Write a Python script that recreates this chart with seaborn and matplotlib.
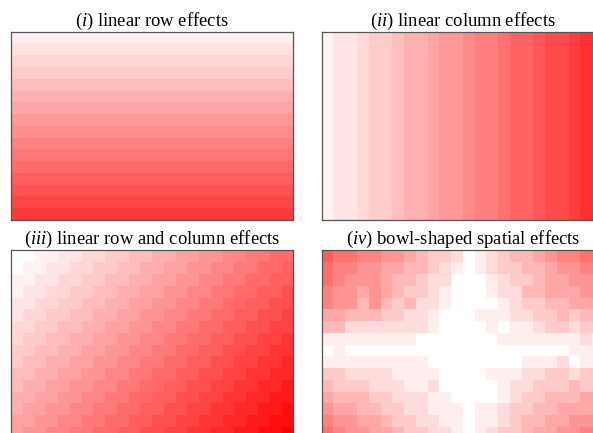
import numpy as np
import matplotlib
matplotlib.use("Agg")
import matplotlib.pyplot as plt
from matplotlib.colors import LinearSegmentedColormap
import seaborn as sns

# ---------------- data (colour levels) ----------------
# (i) linear row effects: one level per row (16 rows, 24 columns)
row_levels_i = [1.3, 2.2, 3.1, 4.0, 4.9, 5.8, 6.7, 7.6, 8.4, 9.3, 10.2, 11.1, 12.0, 12.9, 13.8, 14.7]
n_cols = 24

# (ii) linear column effects: one level per column
col_levels_ii = [1.0, 2.0, 2.0, 2.9, 3.9, 3.9, 4.8, 5.8, 5.8, 6.8, 7.7, 7.7,
                 8.7, 9.6, 9.6, 10.6, 11.6, 11.6, 12.5, 13.5, 13.5, 14.4, 15.4, 15.4]
n_rows = 16

# (iii) linear row and column effects (row part + column part, shown in steps)
row_part_iii = [0.0, 0.5, 1.0, 1.5, 2.0, 2.5, 3.0, 3.5, 4.0, 4.5, 5.0, 5.5, 6.0, 6.5, 7.0, 7.5]
col_part_iii = [0.0, 0.5, 1.0, 1.5, 2.0, 2.5, 3.0, 3.5, 4.0, 4.5, 5.0, 5.5,
                6.0, 6.5, 7.0, 7.5, 8.0, 8.5, 9.0, 9.5, 10.0, 10.5, 11.0, 11.5]

# (iv) bowl-shaped spatial effects (cell levels, 16 x 24)
bowl_iv = [
    [9,8,8,7,7,6,6,5,4,3,3,2,0,1,2,3,4,4,5,6,7,7,8,8],
    [8,7,7,6,6,5,5,4,4,3,2,1,0,1,2,3,3,4,4,5,6,6,7,7],
    [8,7,6,6,6,5,4,4,3,2,2,0,0,0,1,2,3,3,4,5,5,6,6,6],
    [7,6,6,5,6,5,4,3,3,2,1,0,0,0,1,2,2,4,4,5,5,5,6,6],
    [7,6,6,4,6,4,3,4,2,2,1,0,0,0,0,1,2,3,3,4,4,5,5,5],
    [5,5,4,4,4,3,3,2,2,1,0,0,0,1,1,1,2,2,3,3,4,3,4,4],
    [4,4,2,2,2,2,2,2,2,1,0,0,0,0,1,0,1,1,2,3,3,2,3,3],
    [1,1,1,1,1,1,1,1,0,0,0,0,0,0,0,1,1,1,1,1,1,1,2,1],
    [0,1,0,0,0,0,0,0,0,0,0,0,0,0,0,0,0,0,0,0,0,1,1,1],
    [1,1,1,1,1,1,1,1,1,0,0,0,0,0,0,0,0,1,1,1,2,0,1,1],
    [3,3,2,2,2,2,1,1,1,1,0,0,0,0,1,1,1,2,2,3,3,2,3,3],
    [4,3,3,3,2,2,2,1,1,2,0,0,0,0,0,1,2,2,3,3,3,4,3,3],
    [5,4,4,4,3,3,2,2,2,1,1,0,0,0,0,1,2,3,3,4,4,4,5,5],
    [6,5,5,4,4,3,3,2,2,1,1,1,0,1,1,2,3,3,4,4,5,5,5,5],
    [7,6,6,5,5,4,3,3,2,2,1,1,0,1,1,2,3,4,4,5,5,6,6,6],
    [8,7,6,6,5,5,4,3,3,2,2,1,0,1,2,3,3,4,5,5,6,6,7,7],
]

titles = [
    (r"($\mathit{i}$) linear row effects"),
    (r"($\mathit{ii}$) linear column effects"),
    (r"($\mathit{iii}$) linear row and column effects"),
    (r"($\mathit{iv}$) bowl-shaped spatial effects"),
]

# ---------------- build tables ----------------
mat_i = np.repeat(np.array(row_levels_i)[:, None], n_cols, axis=1)
mat_ii = np.repeat(np.array(col_levels_ii)[None, :], n_rows, axis=0)
mat_iii = np.floor(np.array(row_part_iii)[:, None] + np.array(col_part_iii)[None, :])
mat_iv = np.array(bowl_iv, dtype=float)

# ---------------- style ----------------
plt.rcParams["font.family"] = ["Liberation Serif", "DejaVu Serif"]
plt.rcParams["mathtext.fontset"] = "custom"
plt.rcParams["mathtext.it"] = "Liberation Serif:italic"
plt.rcParams["mathtext.rm"] = "Liberation Serif"

cmap = LinearSegmentedColormap.from_list("wr", ["#ffffff", "#ff0000"])

W, H = 593, 433
fig = plt.figure(figsize=(W / 100, H / 100), dpi=100)

def add_ax(x0, y0, w, h):
    return fig.add_axes([x0 / W, 1 - (y0 + h) / H, w / W, h / H])

aw, ah = 282.3, 188.3
boxes = [(11, 31.7), (321.7, 31.7), (11, 250.5), (321.7, 250.5)]
mats = [mat_i, mat_ii, mat_iii, mat_iv]
vmaxes = [19, 19, 19, 14.3]

for (x0, y0), m, vmax, t in zip(boxes, mats, vmaxes, titles):
    ax = add_ax(x0, y0, aw, ah)
    sns.heatmap(m, ax=ax, cmap=cmap, vmin=0, vmax=vmax, cbar=False,
                xticklabels=False, yticklabels=False)
    for s in ax.spines.values():
        s.set_visible(True)
        s.set_color("#555555")
        s.set_linewidth(0.9)
    ax.set_title(t, fontsize=13.4, pad=3.5)

fig.savefig("out.png", dpi=100)
